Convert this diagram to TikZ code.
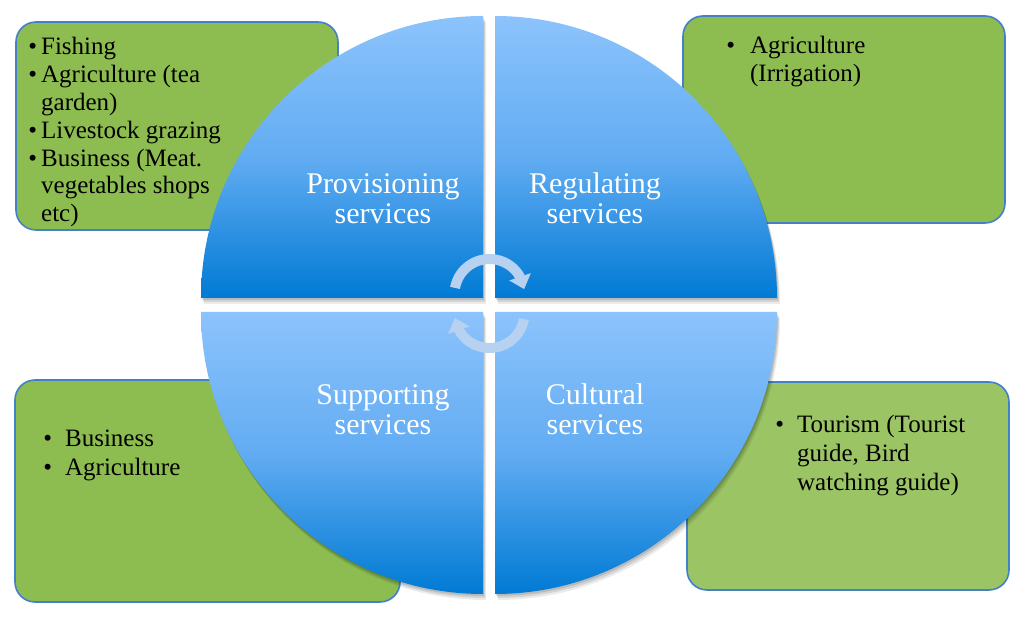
\documentclass[tikz,border=0pt]{standalone}
\usepackage{fontspec}
\setmainfont{Liberation Serif}
\usetikzlibrary{arrows.meta,bending}
\definecolor{lightblue}{RGB}{140,195,252}
\definecolor{midblue}{RGB}{98,172,242}
\definecolor{darkblue}{RGB}{0,122,212}
\definecolor{boxgreen}{RGB}{141,189,80}
\definecolor{boxgreentwo}{RGB}{155,196,100}
\definecolor{boxline}{RGB}{68,128,200}
\definecolor{arrowc}{RGB}{182,210,240}
\begin{document}
\begin{tikzpicture}[x=0.5pt,y=0.5pt,
  greenbox/.style={draw=boxline,line width=0.8pt,rounded corners=10pt,fill=boxgreen},
  quad/.style={top color=lightblue,bottom color=darkblue,middle color=midblue},
  itemtext/.style={inner sep=0pt,anchor=base west,text=black},
  svclabel/.style={inner sep=0pt,anchor=base,text=white,font=\fontsize{15}{15}\selectfont},
  cyc/.style={draw=arrowc,line width=5pt,-{Triangle[width=11pt,length=6.5pt]}}]
\useasboundingbox (0,0) rectangle (1024,620);
\fill[white] (0,0) rectangle (1024,620);
% green boxes
\draw[greenbox] (16,390) rectangle (338,598);
\draw[greenbox] (683,397) rectangle (1005,604);
\draw[greenbox] (15,18) rectangle (400,240);
\draw[greenbox,fill=boxgreentwo] (687,30) rectangle (1009,238);
% shadow
\foreach \dx/\dy/\o in {3/-6/0.08,2/-4/0.10,1/-2/0.12}{
\begin{scope}[shift={(\dx,\dy)}]
\fill[black,opacity=\o] (483,322) -- ++(-282,0) arc[start angle=180,end angle=90,radius=282] -- cycle
 (495,322) -- ++(282,0) arc[start angle=0,end angle=90,radius=282] -- cycle
 (483,308) -- ++(-282,0) arc[start angle=180,end angle=270,radius=282] -- cycle
 (495,308) -- ++(282,0) arc[start angle=0,end angle=-90,radius=282] -- cycle;
\end{scope}}
% quadrants
\shade[quad] (483,322) -- ++(-282,0) arc[start angle=180,end angle=90,radius=282] -- cycle;
\shade[quad] (495,322) -- ++(282,0) arc[start angle=0,end angle=90,radius=282] -- cycle;
\shade[quad] (483,308) -- ++(-282,0) arc[start angle=180,end angle=270,radius=282] -- cycle;
\shade[quad] (495,308) -- ++(282,0) arc[start angle=0,end angle=-90,radius=282] -- cycle;
% circular arrows
\draw[cyc] (489.5,326) ++(170:35) arc[start angle=170,end angle=8,radius=35];
\draw[cyc] (489.5,307) ++(-10:35) arc[start angle=-10,end angle=-172,radius=35];
% service labels
\node[svclabel] (prov) at (383,426) {\begin{tabular}[t]{@{}c@{}}Provisioning\\services\end{tabular}};
\node[svclabel] (regu) at (595,426) {\begin{tabular}[t]{@{}c@{}}Regulating\\services\end{tabular}};
\node[svclabel] (supp) at (383,215) {\begin{tabular}[t]{@{}c@{}}Supporting\\services\end{tabular}};
\node[svclabel] (cult) at (595,215) {\begin{tabular}[t]{@{}c@{}}Cultural\\services\end{tabular}};
% box texts
\node[itemtext,font=\fontsize{12.5}{13.9}\selectfont] (provlist) at (28,565)
 {\begin{tabular}[t]{@{}l@{\hspace{2pt}}l@{}}•&Fishing\\•&Agriculture (tea\\&garden)\\•&Livestock grazing\\•&Business (Meat.\\&vegetables shops\\&etc)\end{tabular}};
\node[itemtext,font=\fontsize{12.5}{14}\selectfont] (regulist) at (726,566)
 {\begin{tabular}[t]{@{}l@{\hspace{7.5pt}}l@{}}•&Agriculture\\&(Irrigation)\end{tabular}};
\node[itemtext,font=\fontsize{12.5}{14.5}\selectfont] (supplist) at (43,173)
 {\begin{tabular}[t]{@{}l@{\hspace{6.5pt}}l@{}}•&Business\\•&Agriculture\end{tabular}};
\node[itemtext,font=\fontsize{12.5}{14.5}\selectfont] (cultlist) at (775,187)
 {\begin{tabular}[t]{@{}l@{\hspace{6.5pt}}l@{}}•&Tourism (Tourist\\&guide, Bird\\&watching guide)\end{tabular}};
\end{tikzpicture}
\end{document}
